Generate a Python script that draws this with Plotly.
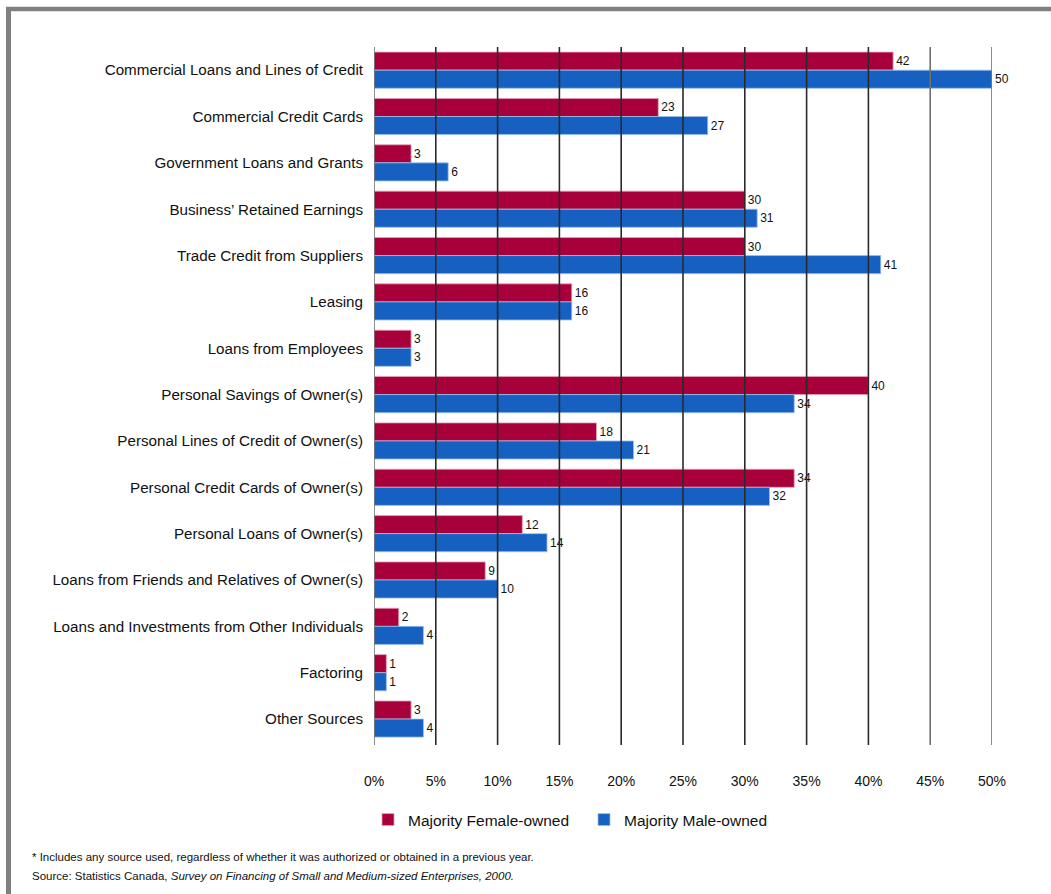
import plotly.graph_objects as go

categories = [
    "Commercial Loans and Lines of Credit",
    "Commercial Credit Cards",
    "Government Loans and Grants",
    "Business\u2019 Retained Earnings",
    "Trade Credit from Suppliers",
    "Leasing",
    "Loans from Employees",
    "Personal Savings of Owner(s)",
    "Personal Lines of Credit of Owner(s)",
    "Personal Credit Cards of Owner(s)",
    "Personal Loans of Owner(s)",
    "Loans from Friends and Relatives of Owner(s)",
    "Loans and Investments from Other Individuals",
    "Factoring",
    "Other Sources",
]
female_owned = [42, 23, 3, 30, 30, 16, 3, 40, 18, 34, 12, 9, 2, 1, 3]
male_owned = [50, 27, 6, 31, 41, 16, 3, 34, 21, 32, 14, 10, 4, 1, 4]
tick_values = [0, 5, 10, 15, 20, 25, 30, 35, 40, 45, 50]
tick_labels = [f"{v}%" for v in tick_values]

FONT = "Liberation Sans Narrow, Arial Narrow, Liberation Sans, Arial, sans-serif"
RED = "#A8003B"
BLUE = "#1560C0"

# page geometry (pixels)
W, H = 1051, 894
L, R, T, B = 374, 59, 47, 149
PW, PH = W - L - R, H - T - B


def px_x(px):
    return (px - L) / PW


def px_y(py):
    return (H - B - py) / PH


fig = go.Figure()
fig.add_trace(go.Bar(
    y=categories, x=female_owned, orientation="h", name="Majority Female-owned",
    marker=dict(color=RED, line=dict(color="#e8a0b8", width=0.8)),
    text=female_owned, textposition="outside", cliponaxis=False,
    constraintext="none", textfont=dict(size=12, color="#111", family=FONT),
))
fig.add_trace(go.Bar(
    y=categories, x=male_owned, orientation="h", name="Majority Male-owned",
    marker=dict(color=BLUE, line=dict(color="#9cc0ec", width=0.8)),
    text=male_owned, textposition="outside", cliponaxis=False,
    constraintext="none", textfont=dict(size=12, color="#111", family=FONT),
))

# vertical grid lines drawn over the bars
shapes = []
for v in tick_values:
    shapes.append(dict(
        type="line", xref="x", yref="paper", x0=v, x1=v, y0=0, y1=1,
        line=dict(color="#2a2a2a" if 0 < v < 45 else "#707070", width=1.6),
        layer="above",
    ))

# page frame: top and left edges
shapes.append(dict(type="line", xref="paper", yref="paper",
                   x0=px_x(6), x1=px_x(W + 5), y0=px_y(9), y1=px_y(9),
                   line=dict(color="#808080", width=4.5)))
shapes.append(dict(type="line", xref="paper", yref="paper",
                   x0=px_x(8.5), x1=px_x(8.5), y0=px_y(7), y1=px_y(H + 5),
                   line=dict(color="#808080", width=5)))

annotations = [
    dict(xref="paper", yref="paper", x=px_x(30), y=px_y(857),
         xanchor="left", yanchor="middle", showarrow=False,
         text="* Includes any source used, regardless of whether it was authorized or obtained in a previous year.",
         font=dict(size=11.5, color="#111", family=FONT)),
    dict(xref="paper", yref="paper", x=px_x(30), y=px_y(876),
         xanchor="left", yanchor="middle", showarrow=False,
         text="Source: Statistics Canada, <i>Survey on Financing of Small and Medium-sized Enterprises, 2000.</i>",
         font=dict(size=11.5, color="#111", family=FONT)),
]

fig.update_layout(
    width=W, height=H,
    margin=dict(l=L, r=R, t=T, b=B, pad=0),
    paper_bgcolor="white", plot_bgcolor="white",
    barmode="group", bargap=0.22, bargroupgap=0,
    font=dict(family=FONT, color="#111"),
    shapes=shapes, annotations=annotations,
    showlegend=True,
    legend=dict(
        orientation="h", x=px_x(368), y=px_y(820), xanchor="left", yanchor="middle",
        font=dict(size=15.5, family=FONT, color="#111"),
        entrywidth=171, entrywidthmode="pixels",
        bgcolor="rgba(0,0,0,0)", traceorder="normal",
    ),
    xaxis=dict(
        range=[0, 50], tickvals=tick_values, ticktext=tick_labels,
        showgrid=False, zeroline=False, showline=False, ticks="",
        tickfont=dict(size=14, family=FONT, color="#111"),
        ticklabelstandoff=26, fixedrange=True,
    ),
    yaxis=dict(
        categoryorder="array", categoryarray=categories,
        range=[14.56, -0.5], showgrid=False, zeroline=False, showline=False,
        ticks="", tickfont=dict(size=15.2, family=FONT, color="#111"),
        ticklabelstandoff=10, fixedrange=True,
    ),
)

fig.write_html("out.html")
